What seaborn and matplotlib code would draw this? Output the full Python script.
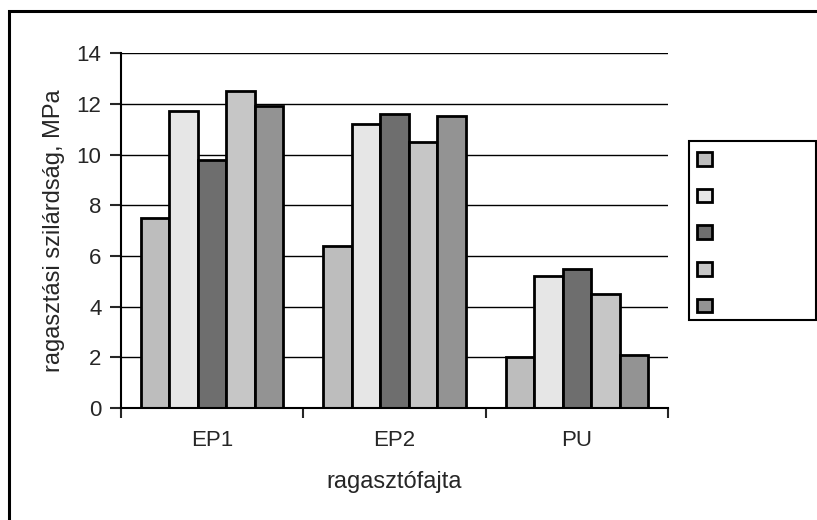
import pandas as pd
import seaborn as sns
import matplotlib.pyplot as plt
from matplotlib.patches import Rectangle

# adhesive types and measured shear strength (5 series each)
categories = ["EP1", "EP2", "PU"]
series = ["s1", "s2", "s3", "s4", "s5"]
s1 = [7.5, 6.4, 2.0]
s2 = [11.7, 11.2, 5.2]
s3 = [9.8, 11.6, 5.5]
s4 = [12.5, 10.5, 4.5]
s5 = [11.9, 11.5, 2.1]
colors = ["#bdbdbd", "#e6e6e6", "#6e6e6e", "#c6c6c6", "#939393"]

rows = []
for name, vals in zip(series, [s1, s2, s3, s4, s5]):
    for cat, v in zip(categories, vals):
        rows.append({"cat": cat, "series": name, "val": v})
df = pd.DataFrame(rows)

sns.set_style("white")
plt.rcParams["font.family"] = ["Liberation Sans", "DejaVu Sans"]

fig = plt.figure(figsize=(8.17, 5.2), dpi=100)
ax = fig.add_axes([0.148, 0.215, 0.67, 0.683])

sns.barplot(data=df, x="cat", y="val", hue="series", order=categories,
            hue_order=series, palette=colors, width=0.78, saturation=1,
            edgecolor="black", linewidth=2, legend=False, ax=ax)

ax.set_ylim(0, 14)
ax.set_xlim(-0.5, 2.5)
ax.set_yticks(range(0, 15, 2))
ax.yaxis.grid(True, color="black", linewidth=1)
ax.set_axisbelow(True)
for s in ["top", "right"]:
    ax.spines[s].set_visible(False)
for s in ["left", "bottom"]:
    ax.spines[s].set_color("black")
    ax.spines[s].set_linewidth(1.5)

ax.set_xticks([-0.5, 0.5, 1.5, 2.5], minor=True)
ax.tick_params(axis="x", which="major", length=0, labelsize=16, pad=16)
ax.tick_params(axis="x", which="minor", length=7, width=1.5, direction="out", bottom=True)
ax.tick_params(axis="y", length=8, width=1.5, direction="out", left=True, labelsize=16, pad=6)
ax.set_xlabel("ragasztófajta", fontsize=17, labelpad=14)
ax.set_ylabel("ragasztási szilárdság, MPa", fontsize=17, labelpad=8)

# legend: markers only, no labels
handles = [Rectangle((0, 0), 1, 1, facecolor=c, edgecolor="black", linewidth=2) for c in colors]
leg = fig.legend(handles, [""] * 5, loc="upper left", bbox_to_anchor=(0.853, 0.708),
                 frameon=False, handlelength=0.9, handleheight=0.9,
                 labelspacing=1.26, borderpad=0, borderaxespad=0, handletextpad=0.5,
                 fontsize=12)
fig.patches.append(Rectangle((689 / 817, 1 - 320 / 520), 127 / 817, 179 / 520,
                             transform=fig.transFigure, fill=False,
                             edgecolor="black", linewidth=1.5))

# outer chart border (right and bottom sides fall outside the image)
fig.patches.append(Rectangle((9 / 817, -0.05), 1.0, 1.05 - 11 / 520, transform=fig.transFigure,
                             fill=False, edgecolor="black", linewidth=2.2))

fig.savefig("out.png", dpi=100)
